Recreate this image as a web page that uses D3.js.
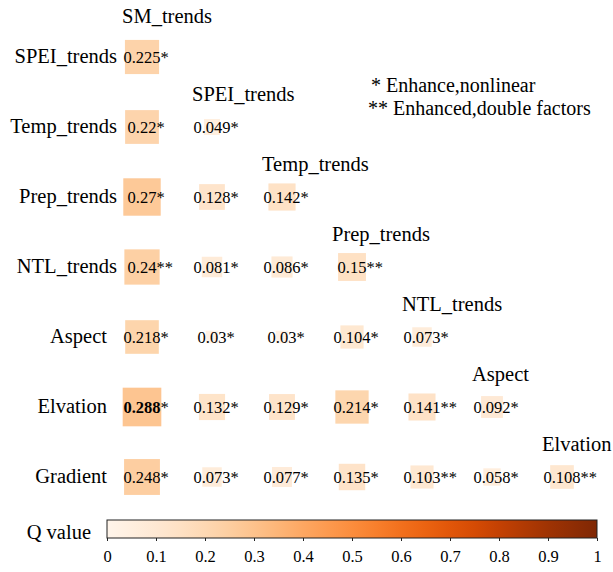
<!DOCTYPE html>
<html>
<head>
<meta charset="utf-8">
<script src="https://cdnjs.cloudflare.com/ajax/libs/d3/7.8.5/d3.min.js"></script>
<style>
	body { margin: 0; background: #fff; }
</style>
</head>
<body>
<div class="q-chart"></div>
<script>
// factor names
var colFactors = ['SM_trends', 'SPEI_trends', 'Temp_trends', 'Prep_trends', 'NTL_trends', 'Aspect', 'Elvation'];
var rowFactors = ['SPEI_trends', 'Temp_trends', 'Prep_trends', 'NTL_trends', 'Aspect', 'Elvation', 'Gradient'];

// q values of interaction, row by row (lower triangle)
var qSPEI = [0.225];
var qTemp = [0.22, 0.049];
var qPrep = [0.27, 0.128, 0.142];
var qNTL = [0.24, 0.081, 0.086, 0.15];
var qAspect = [0.218, 0.03, 0.03, 0.104, 0.073];
var qElvation = [0.288, 0.132, 0.129, 0.214, 0.141, 0.092];
var qGradient = [0.248, 0.073, 0.077, 0.135, 0.103, 0.058, 0.108];

// interaction type: 1 = * , 2 = **
var tSPEI = [1];
var tTemp = [1, 1];
var tPrep = [1, 1, 1];
var tNTL = [2, 1, 1, 2];
var tAspect = [1, 1, 1, 1, 1];
var tElvation = [1, 1, 1, 1, 2, 1];
var tGradient = [1, 1, 1, 1, 2, 1, 2];

var legendLines = ['* Enhance,nonlinear', '** Enhanced,double factors'];
var colorTicks = [0, 0.1, 0.2, 0.3, 0.4, 0.5, 0.6, 0.7, 0.8, 0.9, 1];
var colorTickLabels = ['0', '0.1', '0.2', '0.3', '0.4', '0.5', '0.6', '0.7', '0.8', '0.9', '1'];

var qRows = [qSPEI, qTemp, qPrep, qNTL, qAspect, qElvation, qGradient];
var tRows = [tSPEI, tTemp, tPrep, tNTL, tAspect, tElvation, tGradient];

var serif = '"Liberation Serif", "Times New Roman", Times, serif';

var chart = {

	init: function() {
		var w = 613;
		var h = 572;
		chart.svg = d3.select('.q-chart')
			.append('svg')
			.attr('width', w)
			.attr('height', h)
			.attr('font-family', serif);

		chart.x = d3.scaleBand()
			.domain(colFactors)
			.range([107, 597]);
		chart.y = d3.scaleBand()
			.domain(rowFactors)
			.range([22, 512]);
		chart.size = d3.scaleSqrt()
			.domain([0, 1])
			.range([0, 72]);
		chart.color = d3.scaleSequential(d3.interpolateOranges)
			.domain([0, 1]);

		chart.cells = [];
		var maxQ = 0;
		qRows.forEach(function(row, i) {
			row.forEach(function(q, j) {
				chart.cells.push({row: rowFactors[i], col: colFactors[j], q: q, t: tRows[i][j]});
				if (q > maxQ) { maxQ = q; }
			});
		});
		chart.maxQ = maxQ;

		chart.labels();
		chart.squares();
		chart.legend();
		chart.colorbar();
	},

	cx: function(col) {
		return chart.x(col) + chart.x.bandwidth() / 2;
	},

	cy: function(row) {
		return chart.y(row) + chart.y.bandwidth() / 2;
	},

	txt: function(sel, size) {
		return sel.attr('font-family', serif)
			.attr('font-size', size)
			.attr('fill', '#000');
	},

	labels: function() {
		var svg = chart.svg;

		svg.selectAll('text.row-label')
			.data(rowFactors)
			.enter()
			.append('text')
			.attr('class', 'row-label')
			.attr('x', function(d) {
				// the trends labels sit a bit closer to the boxes
				return d.indexOf('_') < 0 ? 107 : 117;
			})
			.attr('y', function(d) { return chart.cy(d) + 6; })
			.attr('text-anchor', 'end')
			.call(chart.txt, '20.5px')
			.text(function(d) { return d; });

		svg.selectAll('text.col-label')
			.data(colFactors)
			.enter()
			.append('text')
			.attr('class', 'col-label')
			.attr('x', function(d) { return chart.cx(d) - 20; })
			.attr('y', function(d, i) {
				var y = chart.cy(rowFactors[i]) - 26;
				return i === 0 ? y - 8 : y;
			})
			.call(chart.txt, '20.5px')
			.text(function(d) { return d; });
	},

	squares: function() {
		var svg = chart.svg;

		svg.selectAll('rect.cell')
			.data(chart.cells)
			.enter()
			.append('rect')
			.attr('class', 'cell')
			.attr('x', function(d) { return chart.cx(d.col) - chart.size(d.q) / 2; })
			.attr('y', function(d) { return chart.cy(d.row) - chart.size(d.q) / 2; })
			.attr('width', function(d) { return chart.size(d.q); })
			.attr('height', function(d) { return chart.size(d.q); })
			.attr('fill', function(d) { return chart.color(d.q); });

		var nums = svg.selectAll('text.num')
			.data(chart.cells)
			.enter()
			.append('text')
			.attr('class', 'num')
			.attr('x', function(d) { return chart.cx(d.col); })
			.attr('y', function(d) { return chart.cy(d.row) + 6; })
			.attr('text-anchor', 'middle')
			.call(chart.txt, '16.5px')
			.attr('font-weight', function(d) { return d.q === chart.maxQ ? 'bold' : 'normal'; })
			.text(function(d) { return String(d.q); });

		nums.each(function(d) {
			var len = this.getComputedTextLength();
			svg.append('text')
				.attr('class', 'star')
				.attr('x', chart.cx(d.col) + len / 2)
				.attr('y', chart.cy(d.row) + 6)
				.call(chart.txt, '16.5px')
				.text(d.t === 2 ? '**' : '*');
		});
	},

	legend: function() {
		chart.svg.selectAll('text.note')
			.data(legendLines)
			.enter()
			.append('text')
			.attr('class', 'note')
			.attr('x', function(d, i) { return i === 0 ? 371 : 368; })
			.attr('y', function(d, i) { return 92 + i * 23; })
			.call(chart.txt, '20px')
			.text(function(d) { return d; });
	},

	colorbar: function() {
		var svg = chart.svg;
		var barX = d3.scaleLinear().domain([0, 1]).range([107, 597]);
		var top = 520;
		var barH = 18;

		var grad = svg.append('defs')
			.append('linearGradient')
			.attr('id', 'qgrad')
			.attr('x1', '0%').attr('x2', '100%')
			.attr('y1', '0%').attr('y2', '0%');
		grad.selectAll('stop')
			.data(d3.range(0, 1.0001, 0.05))
			.enter()
			.append('stop')
			.attr('offset', function(d) { return (d * 100) + '%'; })
			.attr('stop-color', function(d) { return chart.color(d); });

		svg.append('rect')
			.attr('x', barX(0))
			.attr('y', top)
			.attr('width', barX(1) - barX(0))
			.attr('height', barH)
			.attr('fill', 'url(#qgrad)')
			.attr('stroke', '#222')
			.attr('stroke-width', 1);

		var axis = d3.axisBottom(barX)
			.tickValues(colorTicks)
			.tickFormat(function(d, i) { return colorTickLabels[i]; })
			.tickSize(3)
			.tickSizeOuter(0);

		var g = svg.append('g')
			.attr('transform', 'translate(0,' + (top + barH) + ')')
			.call(axis)
			.attr('font-family', serif)
			.attr('font-size', '16.5px');
		g.select('.domain').remove();
		g.selectAll('line').attr('stroke', '#222');
		g.selectAll('text')
			.call(chart.txt, '16.5px')
			.attr('y', 12.5);

		svg.append('text')
			.attr('x', 91)
			.attr('y', 539)
			.attr('text-anchor', 'end')
			.call(chart.txt, '20.5px')
			.text('Q value');
	}
};

chart.init();
</script>
</body>
</html>
